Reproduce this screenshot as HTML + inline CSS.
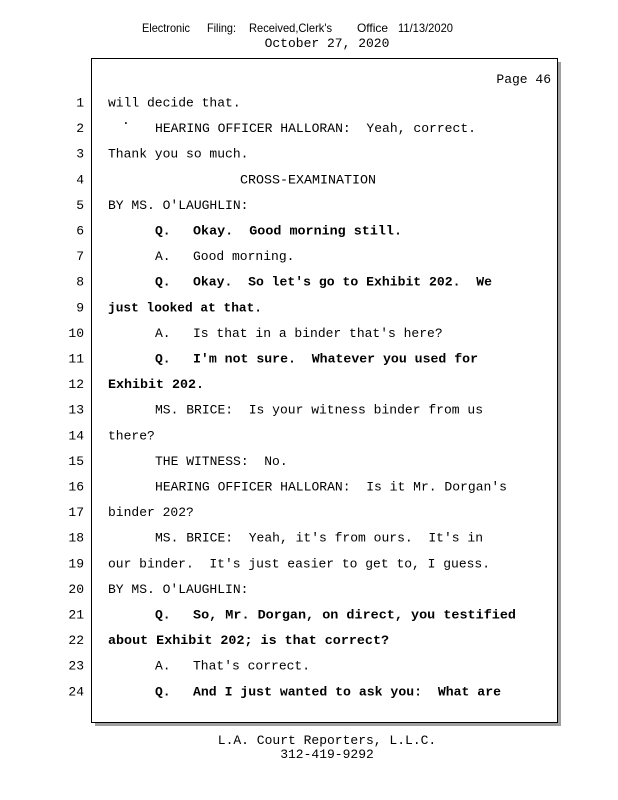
<!DOCTYPE html>
<html><head><style>
html,body{margin:0;padding:0;background:#fff;}
text{white-space:pre;}
</style></head><body>
<svg width="618" height="800" xmlns="http://www.w3.org/2000/svg" style="display:block">
<rect width="618" height="800" fill="#fff"/>
<rect x="95" y="62" width="466" height="664" fill="#a0a0a0"/>
<rect x="91.5" y="58.5" width="466" height="664" fill="#fff" stroke="#000" stroke-width="1"/>
<g font-family="Liberation Sans, sans-serif" font-size="12" fill="#000">
<text x="142" y="32" textLength="48" lengthAdjust="spacingAndGlyphs">Electronic</text>
<text x="207" y="32" textLength="29" lengthAdjust="spacingAndGlyphs">Filing:</text>
<text x="249" y="32" textLength="83" lengthAdjust="spacingAndGlyphs">Received,Clerk's</text>
<text x="357" y="32" textLength="31" lengthAdjust="spacingAndGlyphs">Office</text>
<text x="398" y="32" textLength="55" lengthAdjust="spacingAndGlyphs">11/13/2020</text>
</g>
<g font-family="Liberation Mono, monospace" font-size="13" fill="#000">
<text x="327" y="47" text-anchor="middle">October 27, 2020</text>
<text x="327" y="744" text-anchor="middle">L.A. Court Reporters, L.L.C.</text>
<text x="327" y="758" text-anchor="middle">312-419-9292</text>
<text x="551" y="83" text-anchor="end">Page 46</text>
</g>
<g font-family="Liberation Mono, monospace" font-size="13" fill="#000" text-anchor="end">
<text x="84" y="106.5">1</text><text x="84" y="132.1">2</text><text x="84" y="157.7">3</text><text x="84" y="183.3">4</text><text x="84" y="208.9">5</text><text x="84" y="234.5">6</text><text x="84" y="260.1">7</text><text x="84" y="285.7">8</text><text x="84" y="311.3">9</text><text x="84" y="336.9">10</text><text x="84" y="362.5">11</text><text x="84" y="388.1">12</text><text x="84" y="413.7">13</text><text x="84" y="439.3">14</text><text x="84" y="464.9">15</text><text x="84" y="490.5">16</text><text x="84" y="516.1">17</text><text x="84" y="541.7">18</text><text x="84" y="567.3">19</text><text x="84" y="592.9">20</text><text x="84" y="618.5">21</text><text x="84" y="644.1">22</text><text x="84" y="669.7">23</text><text x="84" y="695.3">24</text>
</g>
<g font-family="Liberation Mono, monospace" font-size="13" fill="#000">
<text x="108" y="106.5">will decide that.</text>
<text x="122" y="124">.</text>
<text x="155" y="132.1" textLength="321" lengthAdjust="spacingAndGlyphs">HEARING OFFICER HALLORAN:  Yeah, correct.</text>
<text x="108" y="157.7">Thank you so much.</text>
<text x="240" y="183.3" textLength="136" lengthAdjust="spacingAndGlyphs">CROSS-EXAMINATION</text>
<text x="108" y="208.9">BY MS. O'LAUGHLIN:</text>
<text x="155" y="260.1">A.</text><text x="193" y="260.1">Good morning.</text>
<text x="155" y="336.9">A.</text><text x="193" y="336.9">Is that in a binder that's here?</text>
<text x="155" y="413.7" textLength="328" lengthAdjust="spacingAndGlyphs">MS. BRICE:  Is your witness binder from us</text>
<text x="108" y="439.3">there?</text>
<text x="155" y="464.9">THE WITNESS:  No.</text>
<text x="155" y="490.5" textLength="352" lengthAdjust="spacingAndGlyphs">HEARING OFFICER HALLORAN:  Is it Mr. Dorgan's</text>
<text x="108" y="516.1">binder 202?</text>
<text x="155" y="541.7" textLength="328" lengthAdjust="spacingAndGlyphs">MS. BRICE:  Yeah, it's from ours.  It's in</text>
<text x="108" y="567.3" textLength="382" lengthAdjust="spacingAndGlyphs">our binder.  It's just easier to get to, I guess.</text>
<text x="108" y="592.9">BY MS. O'LAUGHLIN:</text>
<text x="155" y="669.7">A.</text><text x="193" y="669.7">That's correct.</text>
</g>
<g font-family="Liberation Mono, monospace" font-size="13" font-weight="bold" fill="#000">
<text x="155" y="234.5">Q.</text><text x="193" y="234.5" textLength="209" lengthAdjust="spacingAndGlyphs">Okay.  Good morning still.</text>
<text x="155" y="285.7">Q.</text><text x="193" y="285.7" textLength="299" lengthAdjust="spacingAndGlyphs">Okay.  So let's go to Exhibit 202.  We</text>
<text x="108" y="311.3" textLength="154" lengthAdjust="spacingAndGlyphs">just looked at that.</text>
<text x="155" y="362.5">Q.</text><text x="193" y="362.5" textLength="285" lengthAdjust="spacingAndGlyphs">I'm not sure.  Whatever you used for</text>
<text x="108" y="388.1" textLength="96" lengthAdjust="spacingAndGlyphs">Exhibit 202.</text>
<text x="155" y="618.5">Q.</text><text x="193" y="618.5" textLength="323" lengthAdjust="spacingAndGlyphs">So, Mr. Dorgan, on direct, you testified</text>
<text x="108" y="644.1" textLength="281" lengthAdjust="spacingAndGlyphs">about Exhibit 202; is that correct?</text>
<text x="155" y="695.3">Q.</text><text x="193" y="695.3" textLength="308" lengthAdjust="spacingAndGlyphs">And I just wanted to ask you:  What are</text>
</g>
</svg>
</body></html>
